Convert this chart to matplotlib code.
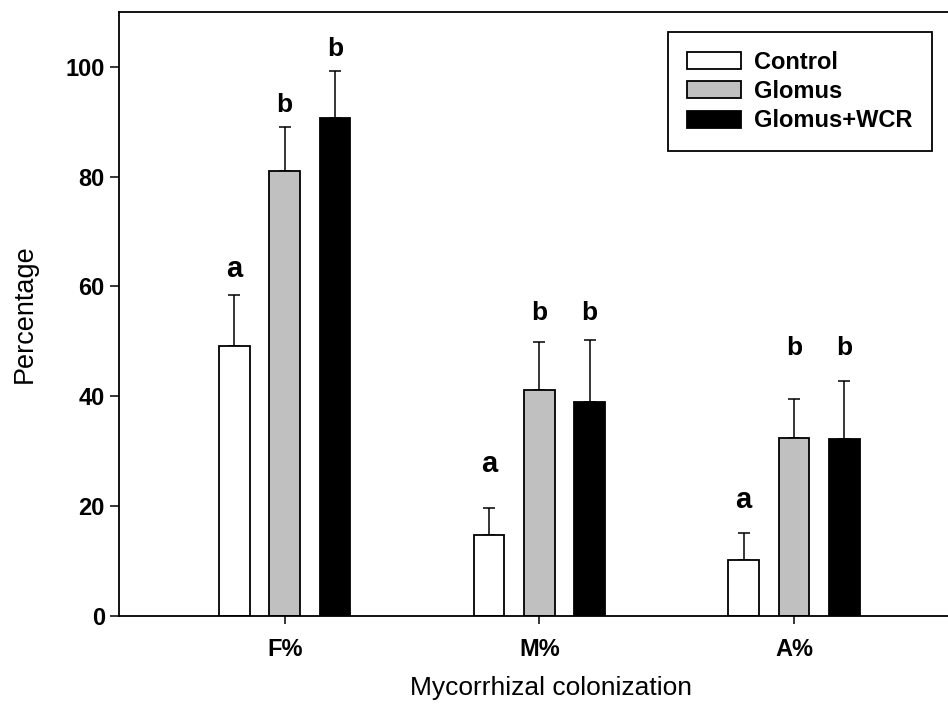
import numpy as np
import matplotlib
matplotlib.use('Agg')
import matplotlib.pyplot as plt

# Data
categories = ['F%', 'M%', 'A%']
series_names = ['Control', 'Glomus', 'Glomus+WCR']
control = [49.2, 14.7, 10.2]
glomus = [81.1, 41.2, 32.5]
glomus_wcr = [90.6, 39.0, 32.3]
control_err = [9.2, 4.9, 4.9]
glomus_err = [8.0, 8.7, 7.0]
glomus_wcr_err = [8.6, 11.2, 10.4]
control_letters = ['a', 'a', 'a']
glomus_letters = ['b', 'b', 'b']
glomus_wcr_letters = ['b', 'b', 'b']
# baseline height of the significance letters (data units)
control_letter_y = [61.7, 26.3, 19.6]
glomus_letter_y = [91.8, 53.9, 47.5]
glomus_wcr_letter_y = [102.0, 53.9, 47.5]

plt.rcParams['font.family'] = ['Liberation Sans', 'DejaVu Sans']

fig = plt.figure(figsize=(9.48, 7.09), dpi=100)
ax = fig.add_axes([0.126, 0.1312, 0.91, 0.852])

x = np.arange(len(categories))
width = 0.1206
offset = 0.198
colors = ['white', '#c0c0c0', 'black']
values = [control, glomus, glomus_wcr]
errors = [control_err, glomus_err, glomus_wcr_err]
letters = [control_letters, glomus_letters, glomus_wcr_letters]
letter_y = [control_letter_y, glomus_letter_y, glomus_wcr_letter_y]
letter_size = {'a': 21, 'b': 19}

for i, name in enumerate(series_names):
    xpos = x + (i - 1) * offset
    ax.bar(xpos, values[i], width, color=colors[i], edgecolor='black',
           linewidth=1.3, label=name, zorder=2)
    ax.errorbar(xpos, values[i], yerr=[np.zeros(len(x)), errors[i]], fmt='none',
                ecolor='black', elinewidth=1.1, capsize=4.3, capthick=1.1, zorder=1)
    for xp, lab, ly in zip(xpos, letters[i], letter_y[i]):
        ax.text(xp, ly, lab, ha='center', va='baseline',
                fontsize=letter_size[lab], fontweight='bold')

ax.set_xlim(-0.649, 2.739)
ax.set_ylim(0, 110)
ax.set_yticks([0, 20, 40, 60, 80, 100])
ax.set_xticks(x)
ax.set_xticklabels(categories)
for lab in ax.get_xticklabels() + ax.get_yticklabels():
    lab.set_fontweight('bold')
    lab.set_fontsize(17)
ax.tick_params(axis='y', direction='out', length=6.5, width=1.1, pad=4)
ax.tick_params(axis='x', direction='out', length=6, width=1.1, pad=10)
for s in ['left', 'top', 'bottom']:
    ax.spines[s].set_linewidth(1.3)
ax.spines['right'].set_visible(False)

ax.set_xlabel('Mycorrhizal colonization', fontsize=19, labelpad=11)
ax.set_ylabel('Percentage', fontsize=19.5, labelpad=20)

leg = ax.legend(loc='upper right', bbox_to_anchor=(0.9415, 0.967), borderaxespad=0,
                fancybox=False, edgecolor='black', framealpha=1,
                prop={'weight': 'bold', 'size': 17},
                handlelength=2.29, handleheight=0.72, handletextpad=0.55,
                labelspacing=0.27, borderpad=0.8)
leg.get_frame().set_linewidth(1.3)

plt.savefig('out.png', dpi=100)
